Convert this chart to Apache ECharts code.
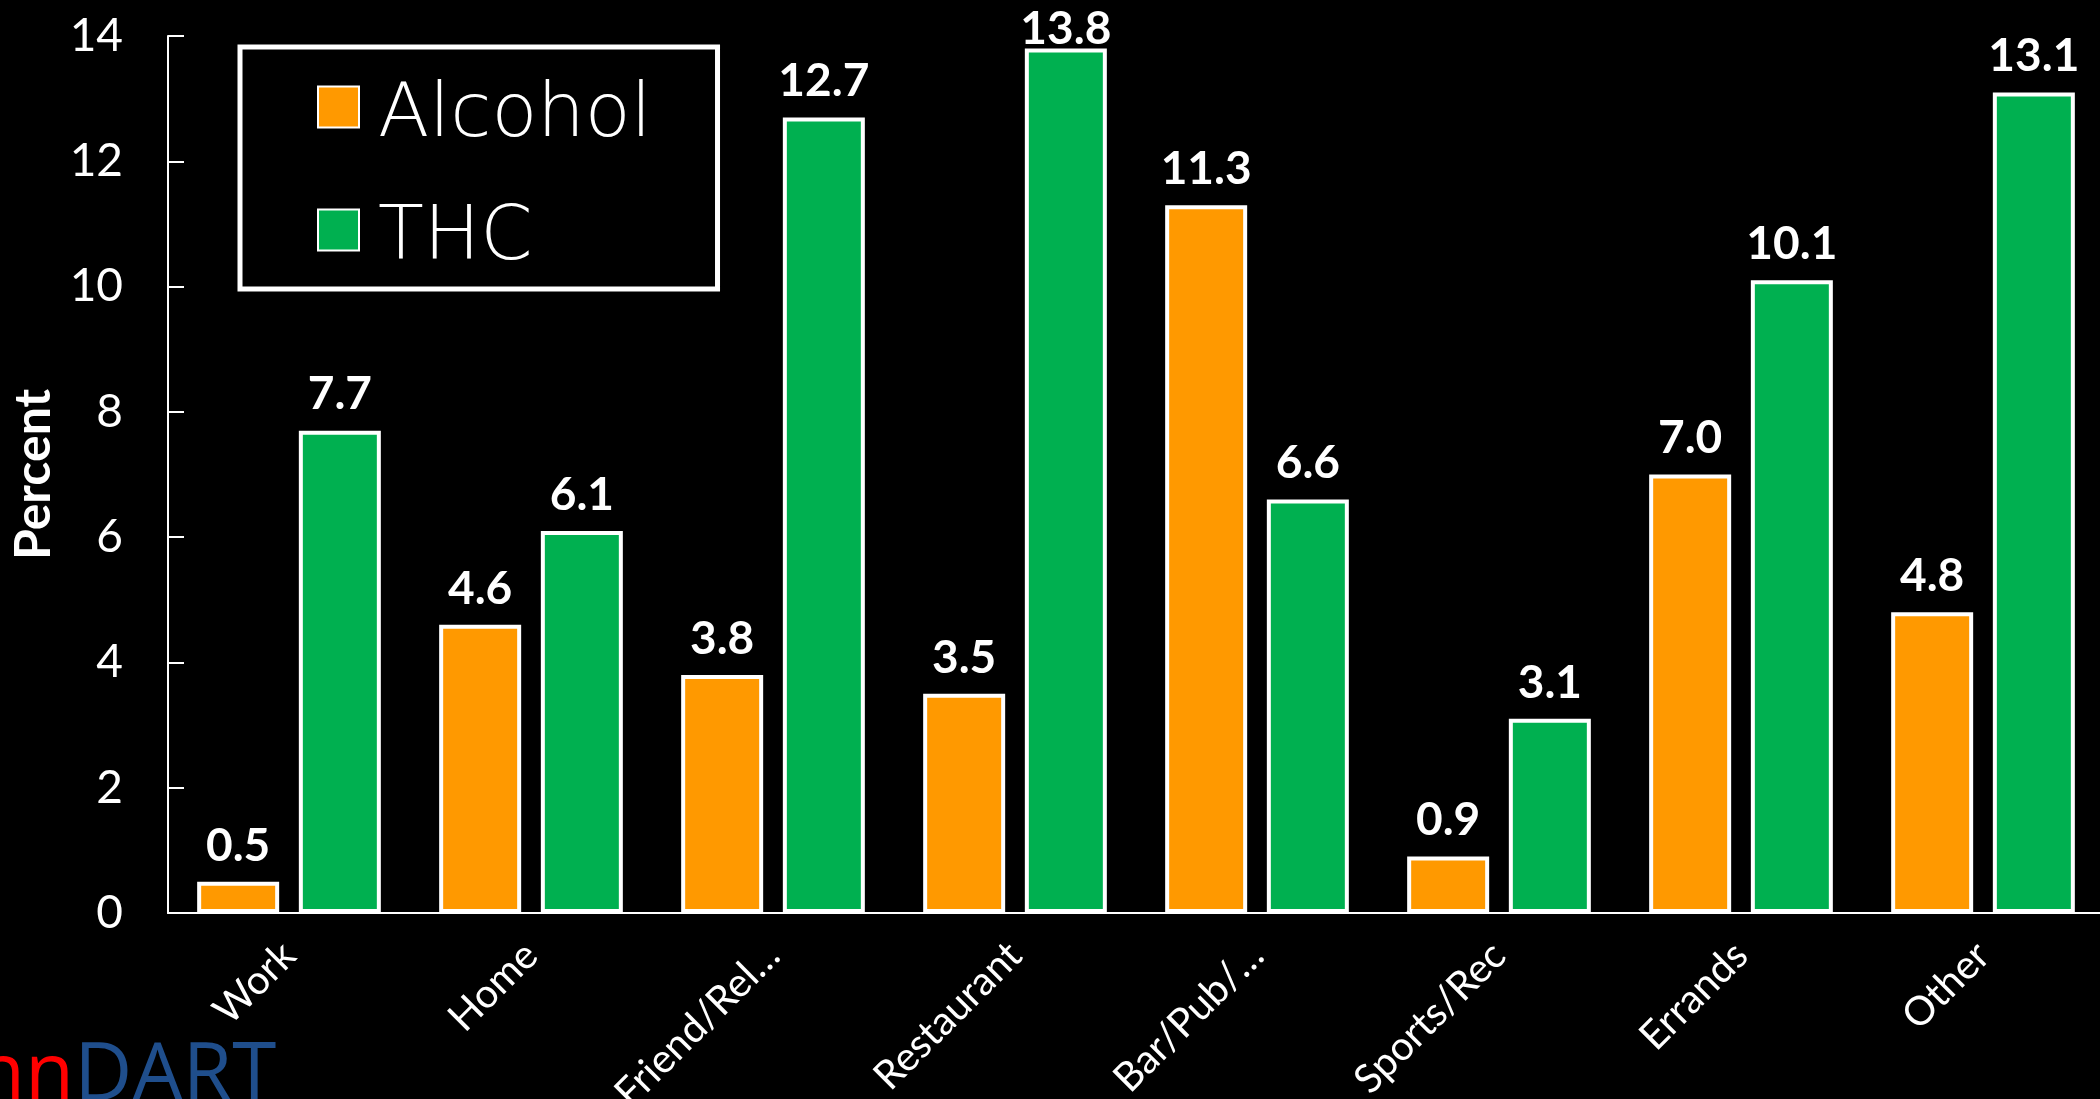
<!DOCTYPE html>
<html>
<head>
<meta charset="utf-8">
<script src="https://cdn.jsdelivr.net/npm/echarts@6/dist/echarts.min.js"></script>
<style>
html,body{margin:0;padding:0;background:#000;}
#chart{width:2100px;height:1099px;}
</style>
</head>
<body>
<div id="chart"></div>
<script>
const categories = ['Work', 'Home', 'Friend/Rel…', 'Restaurant', 'Bar/Pub/…', 'Sports/Rec', 'Errands', 'Other'];
const alcohol = [0.5, 4.6, 3.8, 3.5, 11.3, 0.9, 7.0, 4.8];
const thc = [7.7, 6.1, 12.7, 13.8, 6.6, 3.1, 10.1, 13.1];
const seriesNames = ['Alcohol', 'THC'];
const yTicks = [0, 2, 4, 6, 8, 10, 12, 14];

const chart = echarts.init(document.getElementById('chart'));
const font = 'Lato, "Open Sans", sans-serif';

function toData(arr) {
  return arr.map(v => v > 13.5 ? { value: v, label: { distance: -4 } } : v);
}

const labelStyle = {
  show: true,
  position: 'top',
  distance: 13,
  color: '#fff',
  fontFamily: font,
  fontWeight: 'bold',
  fontSize: 46,
  formatter: p => Number(p.value).toFixed(1)
};

chart.setOption({
  backgroundColor: '#000',
  animation: false,
  grid: { left: 168, right: -4, top: 36, bottom: 186, containLabel: false, outerBoundsMode: 'none' },
  legend: {
    data: seriesNames,
    orient: 'vertical',
    left: 240,
    top: 47,
    padding: [32, 66, 12, 77],
    itemGap: 48,
    itemWidth: 41,
    itemHeight: 41,
    icon: 'rect',
    borderColor: '#fff',
    borderWidth: 5,
    formatter: name => '{t|' + name + '}{s|\u200b}',
    textStyle: {
      color: '#fff',
      rich: {
        t: { color: '#fff', fontFamily: '"DejaVu Sans", sans-serif', fontWeight: 200, fontSize: 75, lineHeight: 80, verticalAlign: 'bottom', padding: [0, 0, 0, 14] },
        s: { fontSize: 2, lineHeight: 94 }
      }
    }
  },
  xAxis: {
    type: 'category',
    data: categories,
    axisLine: { lineStyle: { color: '#fff', width: 2 } },
    axisTick: { show: false },
    axisLabel: { color: '#fff', fontFamily: font, fontSize: 40, rotate: 45, margin: 36, interval: 0 }
  },
  yAxis: {
    type: 'value',
    min: yTicks[0],
    max: yTicks[yTicks.length - 1],
    interval: 2,
    name: 'Percent',
    nameLocation: 'middle',
    nameGap: 108,
    nameTextStyle: { color: '#fff', fontFamily: font, fontWeight: 'bold', fontSize: 50 },
    splitLine: { show: false },
    axisLine: { show: true, lineStyle: { color: '#fff', width: 2 } },
    axisTick: { show: true, inside: true, length: 16, lineStyle: { color: '#fff', width: 2 } },
    axisLabel: { color: '#fff', fontFamily: font, fontSize: 46, margin: 45 }
  },
  series: [
    {
      name: seriesNames[0],
      type: 'bar',
      data: toData(alcohol),
      barWidth: 82,
      barGap: '24%',
      itemStyle: { color: '#FF9900', borderColor: '#fff', borderWidth: 4 },
      label: labelStyle
    },
    {
      name: seriesNames[1],
      type: 'bar',
      data: toData(thc),
      barWidth: 82,
      barGap: '24%',
      itemStyle: { color: '#00B050', borderColor: '#fff', borderWidth: 4 },
      label: labelStyle
    }
  ],
  graphic: [
    {
      type: 'text',
      left: -24,
      top: 1037,
      style: {
        text: '{r|nn}{b|DART}',
        rich: {
          r: { fill: '#FF0000', fontFamily: '"Open Sans", sans-serif', fontSize: 80 },
          b: { fill: '#1F4E8C', fontFamily: '"Open Sans", sans-serif', fontSize: 80 }
        }
      }
    }
  ]
});
</script>
</body>
</html>
